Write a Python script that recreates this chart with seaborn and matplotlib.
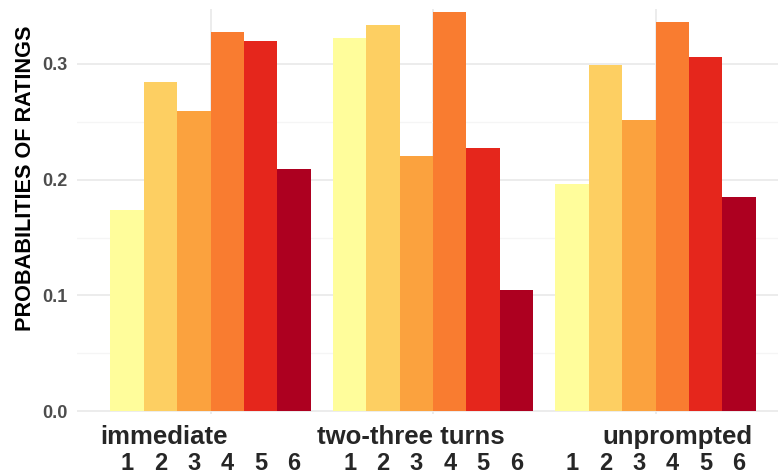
import pandas as pd
import matplotlib.pyplot as plt
import matplotlib.transforms as mtransforms
import seaborn as sns


sns.set_theme(style="whitegrid")
plt.rcParams['font.family'] = ['Liberation Sans', 'DejaVu Sans']

groups = ['immediate', 'two-three turns', 'unprompted']
ratings = ['1', '2', '3', '4', '5', '6']
immediate = [0.1735, 0.2839, 0.2589, 0.3273, 0.3192, 0.2089]
two_three = [0.3222, 0.3336, 0.2201, 0.3443, 0.2273, 0.1046]
unprompted = [0.1957, 0.2986, 0.2509, 0.3362, 0.3058, 0.1853]
colors = ['#FFFD9B', '#FDCF62', '#FBA23E', '#F97C30', '#E5261C', '#AD0020']
group_shift = [-0.21, -0.10, 0.10]

rows = []
for g, vals in zip(groups, [immediate, two_three, unprompted]):
    for r, v in zip(ratings, vals):
        rows.append({'group': g, 'rating': r, 'prob': v})
df = pd.DataFrame(rows)

fig = plt.figure(figsize=(7.78, 4.74), dpi=100)
ax = fig.add_axes([0.099, 0.127, 0.901, 0.854])

sns.barplot(data=df, x='group', y='prob', hue='rating', order=groups,
            hue_order=ratings, palette=colors, width=0.9, saturation=1,
            legend=False, ax=ax, linewidth=0)

ax.set_xlim(-0.6, 2.55)
ax.set_ylim(-0.002, 0.347)
ax.set_yticks([0.0, 0.1, 0.2, 0.3])
ax.set_yticklabels(['0.0', '0.1', '0.2', '0.3'], color='#4D4D4D',
                   fontweight='bold', fontsize=13)
ax.set_yticks([0.05, 0.15, 0.25], minor=True)
ax.grid(True, which='major', color='#EBEBEB', linewidth=1.3)
ax.grid(True, which='minor', axis='y', color='#F5F5F5', linewidth=1.0)
ax.tick_params(axis='y', which='both', length=0, pad=7)
ax.set_xticks([0, 1, 2])
ax.set_xticklabels([])
ax.tick_params(axis='x', length=0)
ax.set_axisbelow(True)
for s in ax.spines.values():
    s.set_visible(False)

ax.set_xlabel('')
ax.set_ylabel('PROBABILITIES OF RATINGS', fontweight='bold', fontsize=15.6,
              color='black')
ax.yaxis.set_label_coords(-0.058, 0.583)

trans = mtransforms.blended_transform_factory(ax.transData, ax.transAxes)
for i, g in enumerate(groups):
    ax.text(i + group_shift[i], -0.058, g, transform=trans, ha='center',
            va='center', fontsize=18.5, fontweight='bold')

for p, lab in zip(ax.patches, [r for r in ratings for _ in groups]):
    cx = p.get_x() + p.get_width() / 2
    ax.text(cx, -0.122, lab, transform=trans, ha='center', va='center',
            fontsize=17, fontweight='bold')

fig.savefig('out.png', dpi=100)
